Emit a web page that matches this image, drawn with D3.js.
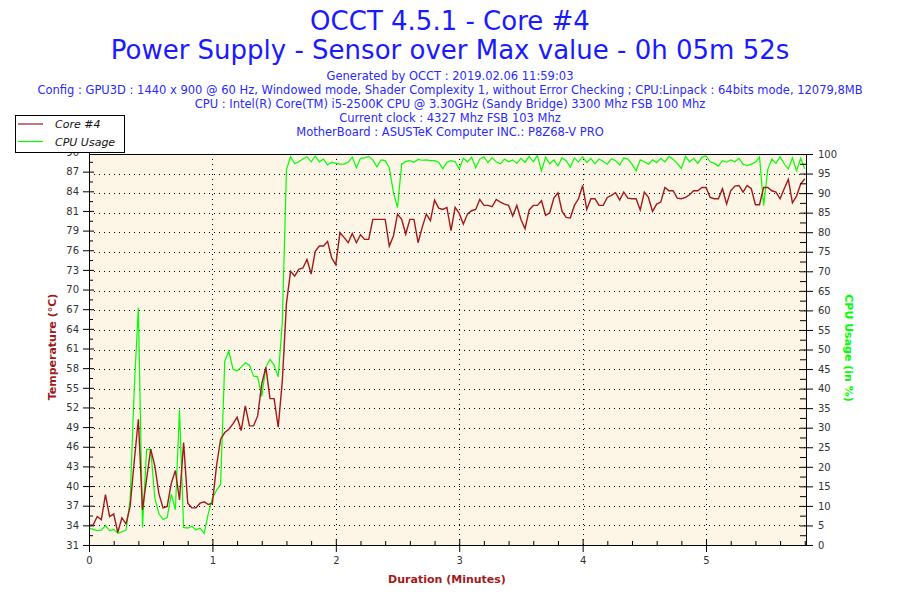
<!DOCTYPE html>
<html>
<head>
<meta charset="utf-8">
<script src="https://cdn.jsdelivr.net/npm/d3@7"></script>
<style>
  body { margin: 0; background: #fff; }
  svg text { font-family: "DejaVu Sans", Verdana, sans-serif; }
</style>
</head>
<body>
<svg id="chart" width="900" height="600"></svg>
<script>
/***************************************************************
 * DATA (one reading every 2 seconds)
 ***************************************************************/
const sampleStep = 2 / 60;          // minutes between readings
const durationMax = 5.81;           // end of the x axis, minutes

const titleLines = [
  "OCCT 4.5.1 - Core #4",
  "Power Supply - Sensor over Max value - 0h 05m 52s"
];
const infoLines = [
  "Generated by OCCT : 2019.02.06 11:59:03",
  "Config : GPU3D : 1440 x 900 @ 60 Hz, Windowed mode, Shader Complexity 1, without Error Checking ; CPU:Linpack : 64bits mode, 12079,8MB",
  "CPU : Intel(R) Core(TM) i5-2500K CPU @ 3.30GHz (Sandy Bridge) 3300 Mhz FSB 100 Mhz",
  "Current clock : 4327 Mhz FSB 103 Mhz",
  "MotherBoard : ASUSTeK Computer INC.: P8Z68-V PRO"
];

const seriesNames = ["Core #4", "CPU Usage"];

// Core #4 temperature, °C
const coreTemp = [
  34.3, 34.3, 35.6, 35.1, 38.9, 35.6, 36.0, 33.2, 35.4, 34.5,
  37.1, 43.9, 50.2, 36.6, 41.2, 45.7, 43.2, 39.0, 36.9, 37.1,
  40.6, 42.5, 38.1, 46.7, 37.6, 36.9, 36.9, 37.6, 37.8, 37.4,
  37.6, 43.2, 47.2, 48.2, 48.7, 49.5, 50.5, 48.5, 52.2, 49.2,
  49.2, 50.7, 55.5, 58.0, 53.3, 53.3, 49.0, 56.0, 67.6, 72.4,
  71.7, 72.7, 72.9, 74.2, 72.0, 75.4, 76.2, 76.2, 76.9, 74.4,
  73.4, 78.2, 77.5, 76.7, 78.1, 76.7, 77.9, 77.2, 77.2, 80.2,
  80.2, 80.2, 80.2, 76.2, 77.7, 81.0, 80.2, 78.0, 80.2, 80.2,
  76.7, 79.0, 81.0, 80.0, 83.1, 81.9, 81.7, 82.0, 78.5, 82.0,
  81.1, 79.5, 81.0, 81.5, 81.7, 83.2, 82.3, 82.3, 82.1, 83.2,
  82.8, 82.5, 82.3, 80.7, 82.3, 80.2, 78.8, 81.6, 82.3, 82.3,
  83.0, 80.8, 81.2, 83.4, 84.2, 81.4, 80.5, 80.4, 82.3, 83.3,
  85.3, 81.7, 83.3, 83.3, 82.3, 82.3, 83.5, 83.8, 84.2, 83.1,
  84.3, 83.4, 83.3, 83.3, 81.6, 84.3, 83.5, 81.4, 82.5, 82.8,
  85.0, 84.5, 84.5, 83.4, 83.3, 83.5, 83.9, 84.5, 84.5, 85.0,
  85.0, 83.5, 83.3, 83.3, 84.8, 82.5, 84.5, 85.2, 85.3, 84.3,
  85.3, 84.8, 82.4, 82.4, 85.0, 85.0, 84.5, 84.3, 83.3, 84.8,
  86.2, 82.7, 83.7, 85.5, 86.3
];

// CPU usage, %
const cpuUsage = [
  4.3, 4.0, 3.7, 3.8, 5.0, 3.7, 4.0, 3.0, 3.4, 3.8,
  11.5, 40.0, 60.7, 4.5, 24.4, 24.5, 12.0, 8.0, 6.5, 7.0,
  13.0, 9.0, 34.6, 4.5, 4.3, 4.8, 3.9, 4.3, 3.0, 8.0,
  12.0, 14.0, 15.5, 47.0, 49.6, 45.0, 44.5, 45.5, 46.6, 46.0,
  43.2, 43.0, 38.0, 45.5, 47.5, 46.0, 43.0, 57.0, 96.0, 99.3,
  97.5, 98.0, 98.7, 99.3, 98.0, 99.5, 98.0, 98.7, 97.2, 97.9,
  97.6, 97.4, 97.4, 97.9, 99.2, 96.5, 98.9, 99.0, 99.4, 98.5,
  96.7, 98.5, 98.3, 96.5, 90.2, 86.3, 97.4, 98.1, 98.3, 97.9,
  98.6, 98.4, 98.5, 98.3, 98.3, 97.9, 96.2, 97.9, 98.3, 98.0,
  96.2, 98.9, 98.0, 99.2, 96.5, 98.7, 99.3, 97.8, 99.0, 98.0,
  97.5, 98.7, 98.0, 98.5, 97.6, 98.9, 97.9, 99.4, 98.0, 99.6,
  95.7, 99.2, 97.5, 98.5, 97.0, 99.0, 98.3, 96.6, 99.0, 98.0,
  99.3, 97.8, 98.9, 97.5, 98.7, 98.1, 97.4, 98.8, 98.3, 97.2,
  99.0, 98.7, 97.4, 95.7, 98.5, 98.0, 97.4, 98.5, 97.8, 98.9,
  98.0, 99.4, 98.6, 97.6, 96.3, 99.4, 98.0, 98.9, 97.6, 99.2,
  99.5, 98.0, 97.6, 96.9, 98.3, 97.9, 98.5, 98.0, 98.9, 97.4,
  97.0, 97.4, 97.9, 99.2, 86.8, 96.0, 98.7, 97.6, 99.3, 97.5,
  96.2, 99.0, 95.7, 98.9, 96.2
];

// left axis: 21 evenly spaced ticks, labels as OCCT prints them
const tempMin = 31.32, tempMax = 90.32;
const tempTickLabels = [31, 34, 37, 40, 43, 46, 49, 52, 55, 58, 61, 64, 67, 70, 73, 76, 79, 81, 84, 87, 90];
const cpuTicks = d3.range(0, 101, 5);
const minuteTicks = [0, 1, 2, 3, 4, 5];

/***************************************************************
 * LAYOUT
 ***************************************************************/
const margin = {top: 154, right: 94, bottom: 55, left: 89};
const W = 900 - margin.left - margin.right;
const H = 600 - margin.top - margin.bottom;

const tempColor = "#a01a1a";
const cpuColor = "#00ff00";
const textBlue = "#1a1aff";
const axisFont = "'Liberation Sans', Arial, sans-serif";

const svg = d3.select("#chart");

// titles
svg.selectAll("text.title")
  .data(titleLines)
  .enter().append("text")
  .attr("class", "title")
  .attr("x", 450)
  .attr("y", (d, i) => 30 + i * 29)
  .attr("text-anchor", "middle")
  .attr("font-size", 26)
  .attr("fill", textBlue)
  .text(d => d);

svg.selectAll("text.info")
  .data(infoLines)
  .enter().append("text")
  .attr("class", "info")
  .attr("x", 450)
  .attr("y", (d, i) => 80 + i * 14.1)
  .attr("text-anchor", "middle")
  .attr("font-size", 11.5)
  .attr("fill", "#2a2aff")
  .text(d => d);

// scales (the left axis reaches 2px above the frame, as in OCCT output)
const x = d3.scaleLinear().domain([0, durationMax]).range([0, W]);
const yTemp = d3.scaleLinear().domain([tempMin, tempMax]).range([H, -2]);
const yCpu = d3.scaleLinear().domain([0, 100]).range([H, 0]);

const tempStep = (tempMax - tempMin) / (tempTickLabels.length - 1);
const tempTickVals = tempTickLabels.map((d, i) => tempMin + i * tempStep);
const tempMinorVals = tempTickVals.slice(0, -1).map(v => v + tempStep / 2);
const cpuMinor = d3.range(2.5, 100, 5);
const minuteMinor = d3.range(0, durationMax, 0.2).filter(v => Math.abs(v - Math.round(v)) > 0.01);

const g = svg.append("g").attr("transform", `translate(${margin.left},${margin.top})`);

// plot background
g.append("rect")
  .attr("width", W).attr("height", H)
  .attr("fill", "#fdf5e6");

// dotted grid
g.append("g")
  .selectAll("line")
  .data(cpuTicks.slice(1, -1))
  .enter().append("line")
  .attr("x1", 0).attr("x2", W)
  .attr("y1", d => Math.round(yCpu(d)) + 0.5).attr("y2", d => Math.round(yCpu(d)) + 0.5)
  .attr("stroke", "#000").attr("stroke-dasharray", "1,4");

g.append("g")
  .selectAll("line")
  .data(minuteTicks.slice(1))
  .enter().append("line")
  .attr("x1", d => Math.round(x(d)) + 0.5).attr("x2", d => Math.round(x(d)) + 0.5)
  .attr("y1", 0).attr("y2", H)
  .attr("stroke", "#000").attr("stroke-dasharray", "1,4");

// series
g.append("clipPath").attr("id", "plotClip")
  .append("rect").attr("width", W).attr("height", H);

const lineCpu = d3.line().x((d, i) => x(i * sampleStep)).y(d => yCpu(d));
const lineTemp = d3.line().x((d, i) => x(i * sampleStep)).y(d => yTemp(d));

g.append("path")
  .datum(cpuUsage)
  .attr("clip-path", "url(#plotClip)")
  .attr("fill", "none")
  .attr("stroke", cpuColor)
  .attr("stroke-width", 1.2)
  .attr("d", lineCpu);

g.append("path")
  .datum(coreTemp)
  .attr("clip-path", "url(#plotClip)")
  .attr("fill", "none")
  .attr("stroke", tempColor)
  .attr("stroke-width", 1.4)
  .attr("d", lineTemp);

// frame
g.append("rect")
  .attr("x", 0.5).attr("y", 0.5)
  .attr("width", W).attr("height", H)
  .attr("fill", "none").attr("stroke", "#000");

// axes: outward ticks with labels, plus inward tick halves
function styleAxis(sel) {
  sel.select(".domain").remove();
  sel.selectAll("text")
    .attr("font-family", axisFont)
    .attr("font-size", 10)
    .attr("fill", "#333");
  return sel;
}

g.append("g")
  .call(d3.axisLeft(yTemp).tickValues(tempTickVals).tickFormat((d, i) => tempTickLabels[i]).tickSize(6).tickSizeOuter(0).tickPadding(4))
  .call(styleAxis);
g.append("g")
  .call(d3.axisRight(yTemp).tickValues(tempTickVals).tickFormat("").tickSize(5).tickSizeOuter(0))
  .call(styleAxis);
g.append("g")
  .call(d3.axisRight(yTemp).tickValues(tempMinorVals).tickFormat("").tickSize(4).tickSizeOuter(0))
  .call(styleAxis);
g.append("line")
  .attr("x1", 0.5).attr("x2", 0.5)
  .attr("y1", yTemp(tempMax)).attr("y2", H)
  .attr("stroke", "#000");

g.append("g")
  .attr("transform", `translate(${W},0)`)
  .call(d3.axisRight(yCpu).tickValues(cpuTicks).tickSize(7).tickSizeOuter(0).tickPadding(5))
  .call(styleAxis);
g.append("g")
  .attr("transform", `translate(${W},0)`)
  .call(d3.axisLeft(yCpu).tickValues(cpuTicks).tickFormat("").tickSize(6).tickSizeOuter(0))
  .call(styleAxis);
g.append("g")
  .attr("transform", `translate(${W},0)`)
  .call(d3.axisLeft(yCpu).tickValues(cpuMinor).tickFormat("").tickSize(6).tickSizeOuter(0))
  .call(styleAxis);

g.append("g")
  .attr("transform", `translate(0,${H})`)
  .call(d3.axisBottom(x).tickValues(minuteTicks).tickFormat(d3.format("d")).tickSize(7).tickSizeOuter(0).tickPadding(5))
  .call(styleAxis);
g.append("g")
  .attr("transform", `translate(0,${H})`)
  .call(d3.axisTop(x).tickValues(minuteTicks).tickFormat("").tickSize(6).tickSizeOuter(0))
  .call(styleAxis);
g.append("g")
  .attr("transform", `translate(0,${H})`)
  .call(d3.axisTop(x).tickValues(minuteMinor).tickFormat("").tickSize(4).tickSizeOuter(0))
  .call(styleAxis);

// axis titles
svg.append("text")
  .attr("transform", "translate(56,347) rotate(-90)")
  .attr("text-anchor", "middle")
  .attr("font-family", axisFont)
  .attr("font-weight", "bold")
  .attr("font-size", 11)
  .attr("fill", tempColor)
  .text("Temperature (°C)");

svg.append("text")
  .attr("transform", "translate(845,348) rotate(90)")
  .attr("text-anchor", "middle")
  .attr("font-family", axisFont)
  .attr("font-weight", "bold")
  .attr("font-size", 11)
  .attr("fill", cpuColor)
  .text("CPU Usage (in %)");

svg.append("text")
  .attr("x", 447).attr("y", 583)
  .attr("text-anchor", "middle")
  .attr("font-family", axisFont)
  .attr("font-weight", "bold")
  .attr("font-size", 11)
  .attr("fill", tempColor)
  .text("Duration (Minutes)");

// legend, drawn last so it covers the top label like the original
const legend = svg.append("g").attr("transform", "translate(15,115)");
legend.append("rect")
  .attr("x", 0.5).attr("y", 0.5)
  .attr("width", 109).attr("height", 37)
  .attr("fill", "#fff").attr("stroke", "#000");
const legendColors = [tempColor, cpuColor];
seriesNames.forEach((name, i) => {
  legend.append("line")
    .attr("x1", 3).attr("x2", 28)
    .attr("y1", 9 + i * 17.5).attr("y2", 9 + i * 17.5)
    .attr("stroke", legendColors[i]).attr("stroke-width", 1.2);
  legend.append("text")
    .attr("x", 40).attr("y", 13 + i * 17.5)
    .attr("font-size", 11)
    .attr("font-style", "italic")
    .attr("fill", "#111")
    .text(name);
});
</script>
</body>
</html>
